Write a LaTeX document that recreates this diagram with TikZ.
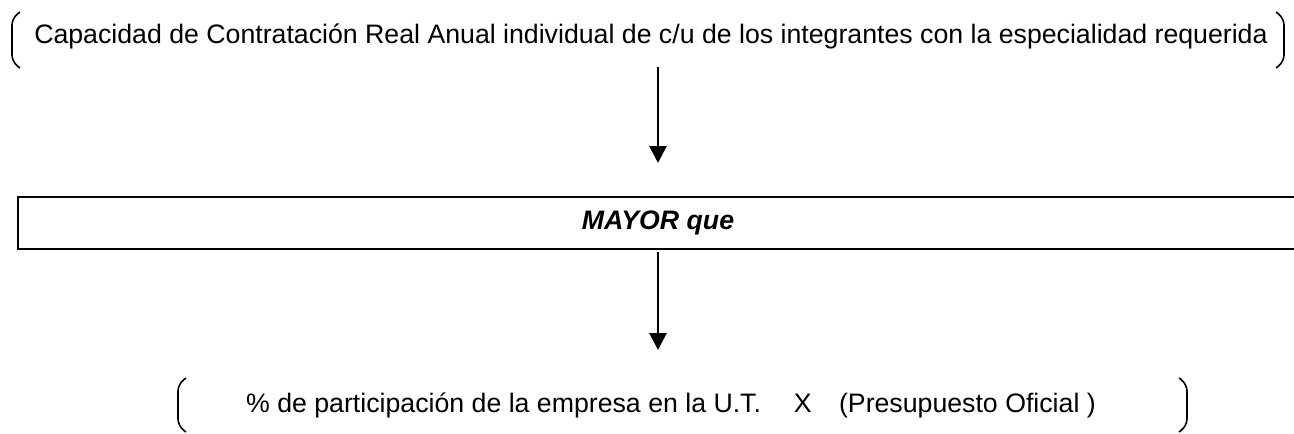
\documentclass[tikz,border=0pt]{standalone}
\usepackage{fontspec}
\setmainfont{Liberation Sans}
\usetikzlibrary{arrows.meta}
\begin{document}
\begin{tikzpicture}[x=1pt,y=-1pt,
  txt/.style={inner sep=0pt,font=\fontsize{26.7}{30}\selectfont},
  brk/.style={line width=1.6pt,rounded corners=7pt},
  arr/.style={line width=2.8pt,-{Triangle[width=17pt,length=17pt]}},
  box/.style={line width=2.4pt}]
\useasboundingbox (0,0) rectangle (1294,434);
% top
\node[txt] (top) at (651,36) {Capacidad de Contratación Real Anual individual de c/u de los integrantes con la especialidad requerida};
\draw[brk] (20,12) -- (12,18) -- (12,62) -- (20,68);
\draw[brk] (1276,12) -- (1284,18) -- (1284,62) -- (1276,68);
\coordinate (a1s) at (658,67);
\coordinate (a1e) at (658,163);
\draw[arr] (a1s) -- (a1e);
% box
\draw[box] (1300,197) -- (18,197) -- (18,249) -- (1300,249);
\node[txt,font=\fontsize{26.7}{30}\selectfont\bfseries\itshape] (mid) at (658,223) {MAYOR que};
\coordinate (a2s) at (658,252);
\coordinate (a2e) at (658,350);
\draw[arr] (a2s) -- (a2e);
% bottom
\node[txt] (bot) at (671,405) {\% de participación de la empresa en la U.T.\hspace{0.95em} X\hspace{0.75em} (Presupuesto Oficial )};
\draw[brk] (186,378) -- (178,384) -- (178,426) -- (186,432);
\draw[brk] (1179,378) -- (1187,384) -- (1187,426) -- (1179,432);
\end{tikzpicture}
\end{document}
